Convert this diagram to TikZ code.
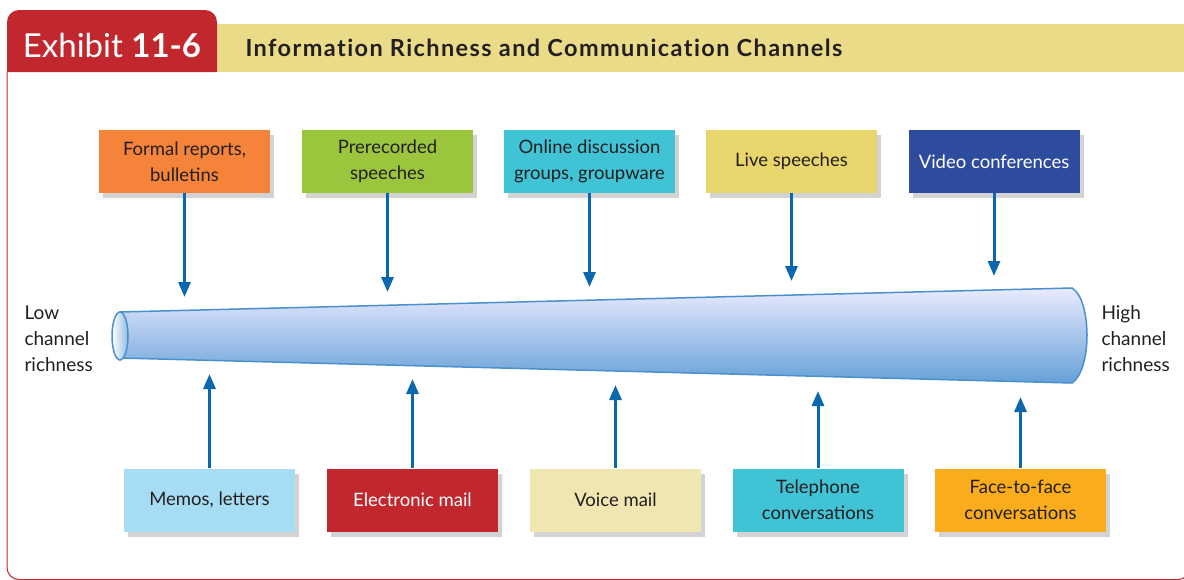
\documentclass[tikz,border=0pt]{standalone}
\usepackage{fontspec}
\setmainfont{Lato}
\usepackage{tikz}
\usetikzlibrary{positioning,arrows.meta,shadows}

\definecolor{exred}{HTML}{C1272D}
\definecolor{band}{HTML}{E9DB88}
\definecolor{orangebox}{HTML}{F5843A}
\definecolor{greenbox}{HTML}{9BC53D}
\definecolor{cyanbox}{HTML}{41C3D6}
\definecolor{yellowbox}{HTML}{E8D56B}
\definecolor{navybox}{HTML}{2E4C9E}
\definecolor{skybox}{HTML}{A6DDF5}
\definecolor{creambox}{HTML}{F0E6B2}
\definecolor{amberbox}{HTML}{F9AD1C}
\definecolor{arrblue}{HTML}{0B68AE}
\definecolor{tubeline}{HTML}{4A90D0}
\definecolor{ink}{HTML}{231F20}

\tikzset{
  chan/.style={minimum width=171pt, minimum height=63pt, inner sep=2pt,
    align=center, text=ink, font=\fontsize{18.5}{26}\selectfont,
    drop shadow={shadow xshift=4pt, shadow yshift=-5pt, opacity=0.35, fill=gray}},
  arr/.style={arrblue, line width=3pt, -{Triangle[length=15pt,width=12pt]}},
  side/.style={align=left, text=ink, font=\fontsize{19}{26}\selectfont, anchor=west}
}

\begin{document}
\begin{tikzpicture}[x=1pt, y=-1pt]
  \useasboundingbox (0,0) rectangle (1184,579);

  % frame and header
  \draw[exred, line width=1pt, rounded corners=12] (7,72) -- (7,579.5) -- (1190,579.5) -- (1190,72);
  \fill[band] (217,24) rectangle (1184,72);
  \fill[exred] (7,72) [rounded corners=12] -- (7,10) -- (217,10) [sharp corners] -- (217,72) -- cycle;
  \node (ex) at (112,45) [text=white, font=\fontsize{33}{36}\selectfont] {Exhibit \textbf{11-6}};
  \node (title) at (242,48) [anchor=west, text=ink,
    font=\fontsize{23.5}{26}\selectfont\bfseries\addfontfeature{LetterSpace=6,Ligatures=NoCommon}]
    {Information Richness and Communication Channels};

  % tube
  \shade[top color=blue!8!white, bottom color=tubeline!85!white, draw=tubeline, line width=1.5pt]
    (120,312) -- (1072,288) .. controls (1092,300) and (1092,370) .. (1072,383) -- (120,358) -- cycle;
  \shade[left color=white, right color=tubeline!60!white, draw=tubeline, line width=1.5pt]
    (120,336) ellipse [x radius=8, y radius=24];
  \node (low) at (21,339) [side] {Low\\channel\\richness};
  \node (high) at (1098,339) [side] {High\\channel\\richness};

  % upper channels
  \node (t1) at (184.5,161.5) [chan, fill=orangebox] {Formal reports,\\bulletins};
  \node (t2) at (387.5,161.5) [chan, fill=greenbox] {Prerecorded\\speeches};
  \node (t3) at (589.5,161.5) [chan, fill=cyanbox] {Online discussion\\groups, groupware};
  \node (t4) at (791.5,161.5) [chan, fill=yellowbox] {Live speeches};
  \node (t5) at (994,161.5) [chan, fill=navybox, text=white] {Video conferences};

  \coordinate (p1) at (184.5,297);
  \coordinate (p2) at (387.5,292);
  \coordinate (p3) at (589.5,287);
  \coordinate (p4) at (791.5,281);
  \coordinate (p5) at (994,276);
  \foreach \i in {1,...,5}
    \draw[arr] (t\i) -- (p\i);

  % lower channels
  \node (b1) at (209.5,500) [chan, fill=skybox] {Memos, letters};
  \node (b2) at (412.5,500) [chan, fill=exred, text=white] {Electronic mail};
  \node (b3) at (615.5,500) [chan, fill=creambox] {Voice mail};
  \node (b4) at (818,500) [chan, fill=cyanbox] {Telephone\\conversations};
  \node (b5) at (1020.5,500) [chan, fill=amberbox] {Face-to-face\\conversations};

  \coordinate (q1) at (209.5,374);
  \coordinate (q2) at (412.5,379);
  \coordinate (q3) at (615.5,385);
  \coordinate (q4) at (818,391);
  \coordinate (q5) at (1020.5,397);
  \foreach \i in {1,...,5}
    \draw[arr] (b\i) -- (q\i);
\end{tikzpicture}
\end{document}
